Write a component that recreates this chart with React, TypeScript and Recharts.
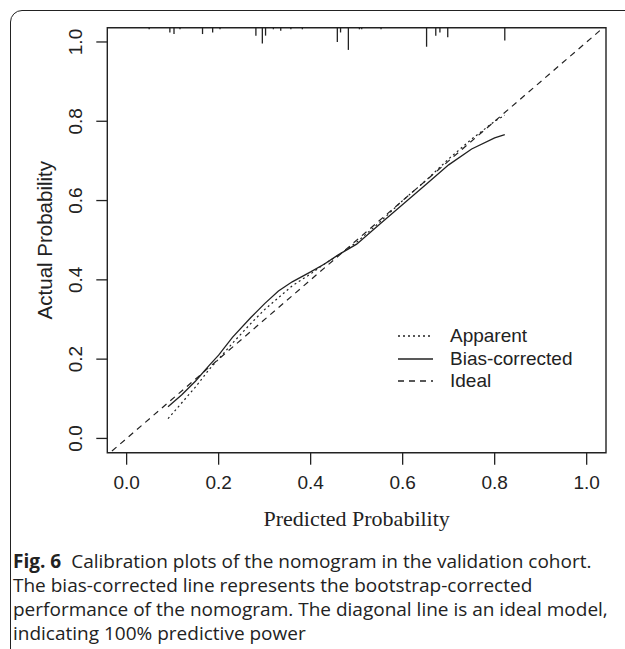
import React from 'react';
import { ComposedChart, Line, XAxis, YAxis, ReferenceArea, ReferenceLine, Legend } from 'recharts';

// predicted probability grid shared by the two calibration curves
const predicted = [0.09, 0.12, 0.15, 0.18, 0.2, 0.23, 0.27, 0.3, 0.33, 0.36, 0.4, 0.43, 0.46, 0.5, 0.55, 0.6, 0.65, 0.7, 0.75, 0.8, 0.822];
const apparent = [0.05, 0.09, 0.13, 0.175, 0.2, 0.24, 0.29, 0.325, 0.355, 0.385, 0.415, 0.44, 0.462, 0.495, 0.545, 0.6, 0.65, 0.705, 0.755, 0.8, 0.815];
const biasCorrected = [0.08, 0.11, 0.145, 0.185, 0.21, 0.255, 0.305, 0.34, 0.372, 0.395, 0.42, 0.44, 0.463, 0.49, 0.54, 0.59, 0.64, 0.69, 0.73, 0.758, 0.766];
const idealX = [-0.05, 1.05];

// distribution of predicted probabilities (rug along the top)
const rugX = [0.049, 0.094, 0.103, 0.116, 0.165, 0.187, 0.203, 0.281, 0.295, 0.302, 0.319, 0.335, 0.357, 0.382, 0.458, 0.465, 0.482, 0.506, 0.511, 0.553, 0.652, 0.672, 0.681, 0.698, 0.822];
const rugCount = [1, 3, 4, 1, 4, 3, 1, 5, 10, 5, 1, 2, 1, 1, 9, 3, 14, 1, 1, 1, 12, 5, 3, 6, 8];

const ticks = [0, 0.2, 0.4, 0.6, 0.8, 1.0];
const legendLabels = ['Apparent', 'Bias-corrected', 'Ideal'];
const captionLines = [
  'Calibration plots of the nomogram in the validation cohort.',
  'The bias-corrected line represents the bootstrap-corrected',
  'performance of the nomogram. The diagonal line is an ideal model,',
  'indicating 100% predictive power',
];

const X_DOMAIN: [number, number] = [-0.042, 1.042];
const Y_DOMAIN: [number, number] = [-0.036, 1.036];
const RUG_UNIT = 0.004;
const INK = '#222';
const AXIS_FONT = '"Liberation Sans", Arial, sans-serif';

const apparentData = predicted.map((x, i) => ({ x, y: apparent[i] }));
const biasData = predicted.map((x, i) => ({ x, y: biasCorrected[i] }));
const idealData = idealX.map((x) => ({ x, y: x }));

const dashes: Record<string, string | undefined> = {
  Apparent: '2 3',
  'Bias-corrected': undefined,
  Ideal: '6 5',
};

const XTick = ({ x, y, payload }: any) => (
  <text x={x} y={y + 24} textAnchor="middle" fontSize={19} fontFamily={AXIS_FONT} fill={INK}>
    {payload.value.toFixed(1)}
  </text>
);

const YTick = ({ x, y, payload }: any) => {
  const bx = x - 14;
  return (
    <text x={bx} y={y} transform={`rotate(-90, ${bx}, ${y})`} textAnchor="middle" fontSize={19} fontFamily={AXIS_FONT} fill={INK}>
      {payload.value.toFixed(1)}
    </text>
  );
};

const YLabel = ({ viewBox }: any) => {
  const bx = 52;
  const cy = viewBox.y + viewBox.height / 2;
  return (
    <text x={bx} y={cy} transform={`rotate(-90, ${bx}, ${cy})`} textAnchor="middle" fontSize={20.5} fontFamily={AXIS_FONT} fill={INK}>
      Actual Probability
    </text>
  );
};

const XLabel = ({ viewBox }: any) => (
  <text x={viewBox.x + viewBox.width / 2} y={526} textAnchor="middle" fontSize={22} fontFamily='"Liberation Serif", "Times New Roman", serif' fill={INK}>
    Predicted Probability
  </text>
);

const LegendBox = () => (
  <div style={{ fontFamily: AXIS_FONT, fontSize: 19, color: INK }}>
    {legendLabels.map((name) => (
      <div key={name} style={{ display: 'flex', alignItems: 'center', height: 22.5 }}>
        <svg width={37} height={22} style={{ display: 'block' }}>
          <line x1={1} x2={36} y1={11} y2={11} stroke={INK} strokeWidth={1.3} strokeDasharray={dashes[name]} />
        </svg>
        <span style={{ marginLeft: 16, lineHeight: '22px' }}>{name}</span>
      </div>
    ))}
  </div>
);

export default function App() {
  return (
    <div style={{ position: 'absolute', left: 0, top: 0, width: 625, height: 649, background: '#fff', overflow: 'hidden' }}>
      {/* figure frame */}
      <div
        style={{
          position: 'absolute',
          left: 10,
          top: 10,
          width: 630,
          height: 660,
          border: `1.5px solid ${INK}`,
          borderTopLeftRadius: 12,
          boxSizing: 'border-box',
        }}
      />
      <div style={{ position: 'absolute', left: 0, top: 0 }}>
        <ComposedChart width={625} height={540} margin={{ top: 27.7, right: 19, bottom: 47.3, left: 47.3 }}>
          <XAxis
            dataKey="x"
            type="number"
            domain={X_DOMAIN}
            ticks={ticks}
            allowDataOverflow
            height={40}
            axisLine={false}
            tickSize={12}
            tickMargin={0}
            tickLine={{ stroke: INK, strokeWidth: 1.3 }}
            tick={<XTick />}
            label={<XLabel />}
          />
          <YAxis
            dataKey="y"
            type="number"
            domain={Y_DOMAIN}
            ticks={ticks}
            allowDataOverflow
            width={60}
            axisLine={false}
            tickSize={11}
            tickMargin={0}
            tickLine={{ stroke: INK, strokeWidth: 1.3 }}
            tick={<YTick />}
            label={<YLabel />}
          />
          <ReferenceArea x1={X_DOMAIN[0]} x2={X_DOMAIN[1]} y1={Y_DOMAIN[0]} y2={Y_DOMAIN[1]} fill="none" stroke={INK} strokeWidth={1.4} fillOpacity={0} strokeOpacity={1} />
          {rugX.map((x, i) => (
            <ReferenceLine
              key={i}
              segment={[
                { x, y: Y_DOMAIN[1] },
                { x, y: Y_DOMAIN[1] - rugCount[i] * RUG_UNIT },
              ]}
              stroke={INK}
              strokeWidth={1.3}
            />
          ))}
          <Line data={apparentData} dataKey="y" name="Apparent" stroke={INK} strokeWidth={1.2} strokeDasharray="2 3" dot={false} isAnimationActive={false} />
          <Line data={biasData} dataKey="y" name="Bias-corrected" stroke={INK} strokeWidth={1.3} dot={false} isAnimationActive={false} />
          <Line data={idealData} dataKey="y" name="Ideal" stroke={INK} strokeWidth={1.2} strokeDasharray="6 5" dot={false} isAnimationActive={false} />
          <Legend
            layout="vertical"
            align="center"
            verticalAlign="middle"
            content={<LegendBox />}
            wrapperStyle={{ left: 397, top: 325, width: 200, height: 70 }}
          />
        </ComposedChart>
      </div>
      {/* caption */}
      <div
        style={{
          position: 'absolute',
          left: 13,
          top: 549,
          fontFamily: '"Open Sans", "Noto Sans", sans-serif',
          fontSize: 19,
          color: INK,
          whiteSpace: 'nowrap',
          transform: 'scaleX(1.0)',
          transformOrigin: 'left top',
        }}
      >
        {captionLines.map((line, i) => (
          <div key={i} style={{ height: 24, lineHeight: '24px' }}>
            {i === 0 && <b style={{ marginRight: 10 }}>Fig. 6</b>}
            {line}
          </div>
        ))}
      </div>
    </div>
  );
}
